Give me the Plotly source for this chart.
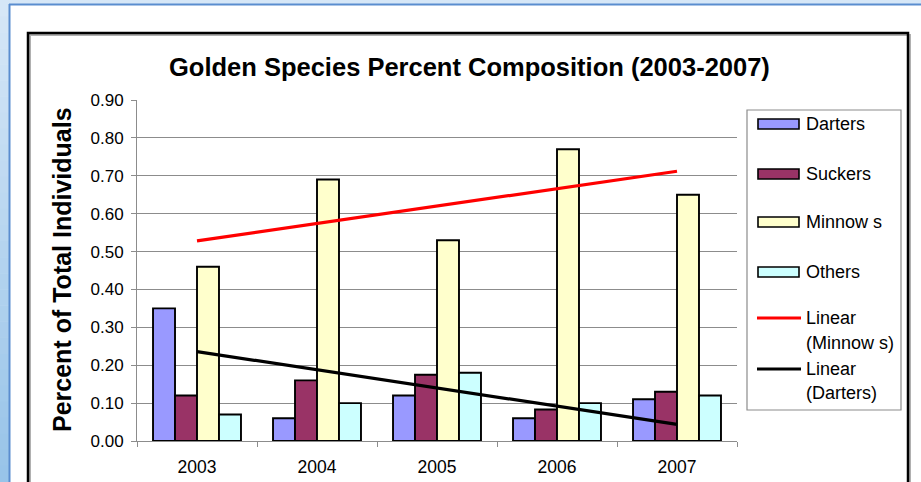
import numpy as np
import plotly.graph_objects as go

# Survey years and share of total individuals per species group
years = ["2003", "2004", "2005", "2006", "2007"]
darters = [0.35, 0.06, 0.12, 0.06, 0.11]
suckers = [0.12, 0.16, 0.175, 0.083, 0.13]
minnows = [0.46, 0.69, 0.53, 0.77, 0.65]
others = [0.07, 0.10, 0.18, 0.10, 0.12]

series_names = ["Darters", "Suckers", "Minnow s", "Others"]
series_values = [darters, suckers, minnows, others]
series_colors = ["#9999ff", "#993366", "#ffffcc", "#ccffff"]

trend_names = [("Linear", "(Minnow s)"), ("Linear", "(Darters)")]
trend_colors = ["#ff0000", "#000000"]

y_ticks = [round(0.1 * i, 2) for i in range(10)]

W, H = 921, 482
L, R, T, B = 137, 184, 100, 41
PW, PH = W - L - R, H - T - B


def px(x):
    return (x - L) / PW


def py(y):
    return (H - B - y) / PH


FONT = "Liberation Sans, Arial, sans-serif"

fig = go.Figure()

for name, vals, col in zip(series_names, series_values, series_colors):
    fig.add_trace(go.Bar(
        x=years, y=vals, name=name, marker_color=col,
        marker_line_color="#000000", marker_line_width=1.9,
        showlegend=False,
    ))

# Least-squares trend lines for minnows and darters
idx = np.arange(1, len(years) + 1)
trend_lines = []
for vals in (minnows, darters):
    k, b = np.polyfit(idx, vals, 1)
    trend_lines.append(k * idx + b)

for vals, col in zip(trend_lines, trend_colors):
    fig.add_trace(go.Scatter(
        x=years, y=vals, mode="lines",
        line=dict(color=col, width=3.2), showlegend=False,
    ))

shapes = []
annotations = []

# Light blue frame around the slide area
c0 = np.array([214, 231, 247])
c1 = np.array([152, 196, 233])
n = 30
for i in range(n):
    t = i / (n - 1)
    c = (c0 * (1 - t) + c1 * t).astype(int)
    y0 = i * H / n
    y1 = (i + 1) * H / n + 0.5
    shapes.append(dict(type="rect", xref="paper", yref="paper",
                       x0=px(0), x1=px(9), y0=py(y0), y1=py(y1),
                       fillcolor=f"rgb({c[0]},{c[1]},{c[2]})", line_width=0,
                       layer="below"))
shapes.append(dict(type="rect", xref="paper", yref="paper",
                   x0=px(0), x1=px(W), y0=py(0), y1=py(4),
                   fillcolor="rgb(214,231,247)", line_width=0, layer="below"))
shapes.append(dict(type="line", xref="paper", yref="paper",
                   x0=px(9.5), x1=px(9.5), y0=py(4), y1=py(H),
                   line=dict(color="#5a8dcf", width=2)))
shapes.append(dict(type="line", xref="paper", yref="paper",
                   x0=px(9), x1=px(W), y0=py(4.5), y1=py(4.5),
                   line=dict(color="#5a8dcf", width=2)))

# Chart area border with a soft shadow
shapes.append(dict(type="rect", xref="paper", yref="paper",
                   x0=px(30), x1=px(910), y0=py(35), y1=py(495),
                   line=dict(color="#b0b0b0", width=2)))
shapes.append(dict(type="rect", xref="paper", yref="paper",
                   x0=px(28), x1=px(908), y0=py(33), y1=py(495),
                   line=dict(color="#000000", width=2.5)))

# Legend box
shapes.append(dict(type="rect", xref="paper", yref="paper",
                   x0=px(747), x1=px(901), y0=py(110), y1=py(410),
                   line=dict(color="#8c8c8c", width=1.2), fillcolor="#ffffff"))

leg_font = dict(family=FONT, size=18, color="#000000")
bar_rows = [124, 174, 222, 272]
for name, col, yc in zip(series_names, series_colors, bar_rows):
    shapes.append(dict(type="rect", xref="paper", yref="paper",
                       x0=px(758), x1=px(799), y0=py(yc - 5), y1=py(yc + 5),
                       fillcolor=col, line=dict(color="#000000", width=1.6)))
    annotations.append(dict(text=name, xref="paper", yref="paper",
                            x=px(804), y=py(yc), xanchor="left", yanchor="middle",
                            showarrow=False, font=leg_font))

line_rows = [(318, 343), (369, 393)]
for (l1, l2), col, (ya, yb) in zip(trend_names, trend_colors, line_rows):
    shapes.append(dict(type="line", xref="paper", yref="paper",
                       x0=px(757), x1=px(801), y0=py(ya), y1=py(ya),
                       line=dict(color=col, width=3)))
    annotations.append(dict(text=l1, xref="paper", yref="paper",
                            x=px(804), y=py(ya), xanchor="left", yanchor="middle",
                            showarrow=False, font=leg_font))
    annotations.append(dict(text=l2, xref="paper", yref="paper",
                            x=px(804), y=py(yb), xanchor="left", yanchor="middle",
                            showarrow=False, font=leg_font))

# Title and y-axis title
annotations.append(dict(text="<b>Golden Species Percent Composition (2003-2007)</b>",
                        xref="paper", yref="paper", x=px(469), y=py(67),
                        xanchor="center", yanchor="middle", showarrow=False,
                        font=dict(family=FONT, size=25.5, color="#000000")))
annotations.append(dict(text="<b>Percent of Total Individuals</b>",
                        xref="paper", yref="paper", x=px(62), y=py(270),
                        xanchor="center", yanchor="middle", showarrow=False,
                        textangle=-90,
                        font=dict(family=FONT, size=25, color="#000000")))

fig.update_layout(
    width=W, height=H,
    margin=dict(l=L, r=R, t=T, b=B, pad=0, autoexpand=False),
    paper_bgcolor="#ffffff", plot_bgcolor="#ffffff",
    barmode="group", bargap=0.267, bargroupgap=0,
    shapes=shapes, annotations=annotations,
    font=dict(family=FONT, size=17, color="#000000"),
)

fig.update_xaxes(
    type="category", categoryorder="array", categoryarray=years,
    showline=True, linecolor="#8c8c8c", linewidth=1,
    ticks="outside", tickson="boundaries", ticklen=5, tickcolor="#8c8c8c",
    ticklabelstandoff=10, automargin=False,
    showgrid=False, tickfont=dict(family=FONT, size=17.5, color="#000000"),
)
fig.update_yaxes(
    range=[0, 0.9], tickvals=y_ticks, tickformat=".2f",
    showline=True, linecolor="#8c8c8c", linewidth=1,
    ticks="outside", ticklen=5, tickcolor="#8c8c8c",
    showgrid=True, gridcolor="#8c8c8c", gridwidth=1, zeroline=False,
    ticklabelstandoff=4, automargin=False,
    tickfont=dict(family=FONT, size=17, color="#000000"),
)

fig.write_html("out.html")
